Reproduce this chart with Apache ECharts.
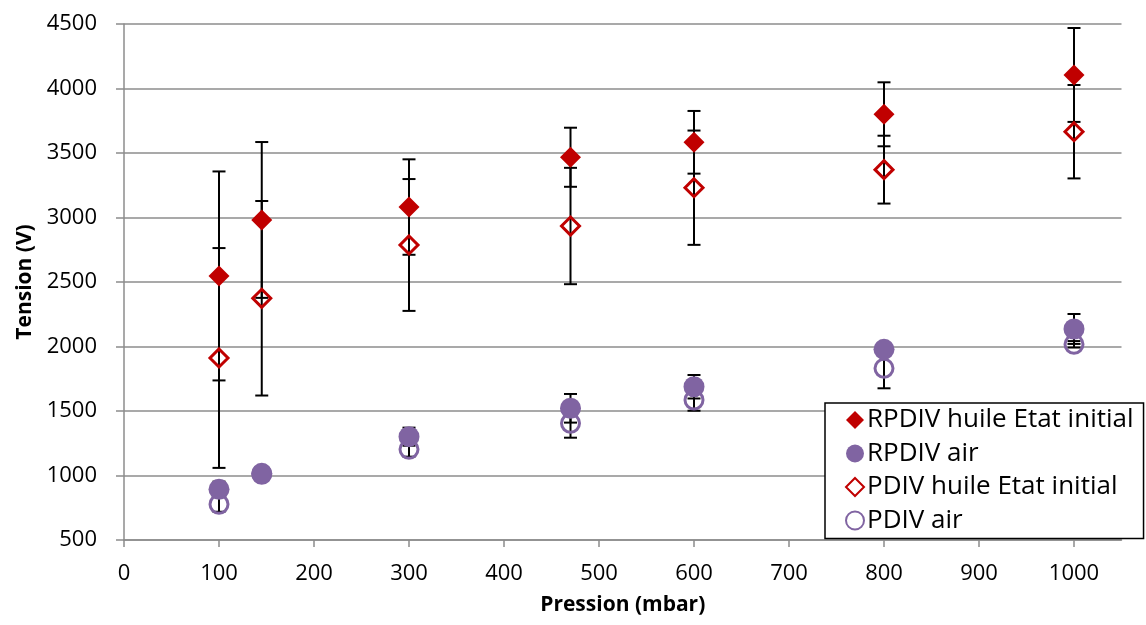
<!DOCTYPE html>
<html>
<head>
<meta charset="utf-8">
<script src="https://cdn.jsdelivr.net/npm/echarts@6/dist/echarts.min.js"></script>
<style>html,body{margin:0;padding:0;background:#fff;}#chart{width:1146px;height:625px;}</style>
</head>
<body>
<div id="chart"></div>
<script>
// ---- data ----
const pressure = [100, 145, 300, 470, 600, 800, 1000];
const rpdivHuile = [2547, 2981, 3081, 3467, 3583, 3800, 4105];
const rpdivHuileErr = [810, 604, 370, 229, 243, 248, 364];
const pdivHuile = [1911, 2374, 2787, 2934, 3231, 3371, 3665];
const pdivHuileErr = [852, 754, 511, 451, 443, 263, 362];
const rpdivAir = [893, 1017, 1301, 1521, 1688, 1978, 2136];
const rpdivAirErr = [60, 20, 70, 111, 91, 50, 116];
const pdivAir = [777, 1010, 1203, 1405, 1585, 1831, 2017];
const pdivAirErr = [58, 20, 57, 112, 83, 155, 25];
const xTicks = [0, 100, 200, 300, 400, 500, 600, 700, 800, 900, 1000];
const seriesNames = ['RPDIV huile Etat initial', 'RPDIV air', 'PDIV huile Etat initial', 'PDIV air'];

const RED = '#C00000', PURPLE = '#8064A2';
const FONT = 'Open Sans';

function pts(vals) { return pressure.map((p, i) => [p, vals[i]]); }
function errs(vals, e) { return pressure.map((p, i) => [p, vals[i] - e[i], vals[i] + e[i]]); }

function errRender(params, api) {
  const x = api.value(0), lo = api.value(1), hi = api.value(2);
  const t = api.coord([x, hi]), b = api.coord([x, lo]);
  const hw = 6.5;
  const style = { stroke: '#000', lineWidth: 2 };
  return { type: 'group', children: [
    { type: 'line', shape: { x1: t[0], y1: t[1], x2: b[0], y2: b[1] }, style: style },
    { type: 'line', shape: { x1: t[0] - hw, y1: t[1], x2: t[0] + hw, y2: t[1] }, style: style },
    { type: 'line', shape: { x1: b[0] - hw, y1: b[1], x2: b[0] + hw, y2: b[1] }, style: style }
  ]};
}
function errSeries(name, vals, e) {
  return { type: 'custom', name: name, z: 1, silent: true, renderItem: errRender,
    encode: { x: 0, y: [1, 2] }, data: errs(vals, e) };
}
const plain = v => String(v);

const chart = echarts.init(document.getElementById('chart'));
chart.setOption({
  animation: false,
  textStyle: { fontFamily: FONT },
  grid: { left: 124, right: 24.5, top: 24, bottom: 85, outerBoundsMode: 'none' },
  xAxis: {
    type: 'value', min: 0, max: 1050,
    name: 'Pression (mbar)', nameLocation: 'middle', nameGap: 55,
    nameTextStyle: { fontFamily: FONT, fontSize: 21, fontWeight: 'bold', color: '#000' },
    axisLine: { show: true, lineStyle: { color: '#8c8c8c', width: 1.5 } },
    axisTick: { show: true, inside: false, length: 7, customValues: xTicks, lineStyle: { color: '#8c8c8c', width: 1.5 } },
    axisLabel: { customValues: xTicks, formatter: plain, margin: 23, fontFamily: FONT, fontSize: 22, color: '#000' },
    splitLine: { show: false }
  },
  yAxis: {
    type: 'value', min: 500, max: 4500, interval: 500,
    name: 'Tension (V)', nameLocation: 'middle', nameGap: 88, nameRotate: 90,
    nameTextStyle: { fontFamily: FONT, fontSize: 21, fontWeight: 'bold', color: '#000' },
    axisLine: { show: true, lineStyle: { color: '#8c8c8c', width: 1.5 } },
    axisTick: { show: true, inside: false, length: 8, lineStyle: { color: '#8c8c8c', width: 1.5 } },
    axisLabel: { formatter: plain, margin: 27, fontFamily: FONT, fontSize: 22, color: '#000' },
    splitLine: { show: true, lineStyle: { color: '#8c8c8c', width: 1.5 } }
  },
  legend: {
    data: seriesNames,
    orient: 'vertical', left: 825, top: 403,
    padding: [4, 10, 5, 20], itemGap: 7.5,
    itemWidth: 18, itemHeight: 18,
    backgroundColor: '#fff', borderColor: '#000', borderWidth: 1.5, borderRadius: 0,
    textStyle: { fontFamily: FONT, fontSize: 26, lineHeight: 26, color: '#000', padding: [0, 0, 0, -2] }
  },
  series: [
    errSeries('e1', rpdivHuile, rpdivHuileErr),
    errSeries('e2', pdivHuile, pdivHuileErr),
    errSeries('e3', rpdivAir, rpdivAirErr),
    errSeries('e4', pdivAir, pdivAirErr),
    { type: 'scatter', name: seriesNames[2], z: 2, symbol: 'diamond', symbolSize: 18,
      itemStyle: { color: 'rgba(255,255,255,0)', borderColor: RED, borderWidth: 3, opacity: 1 }, data: pts(pdivHuile) },
    { type: 'scatter', name: seriesNames[3], z: 2, symbol: 'circle', symbolSize: 18,
      itemStyle: { color: 'rgba(255,255,255,0)', borderColor: PURPLE, borderWidth: 3, opacity: 1 }, data: pts(pdivAir) },
    { type: 'scatter', name: seriesNames[0], z: 3, symbol: 'diamond', symbolSize: 21,
      itemStyle: { color: RED, opacity: 1 }, data: pts(rpdivHuile) },
    { type: 'scatter', name: seriesNames[1], z: 3, symbol: 'circle', symbolSize: 21,
      itemStyle: { color: PURPLE, opacity: 1 }, data: pts(rpdivAir) }
  ]
});
</script>
</body>
</html>
